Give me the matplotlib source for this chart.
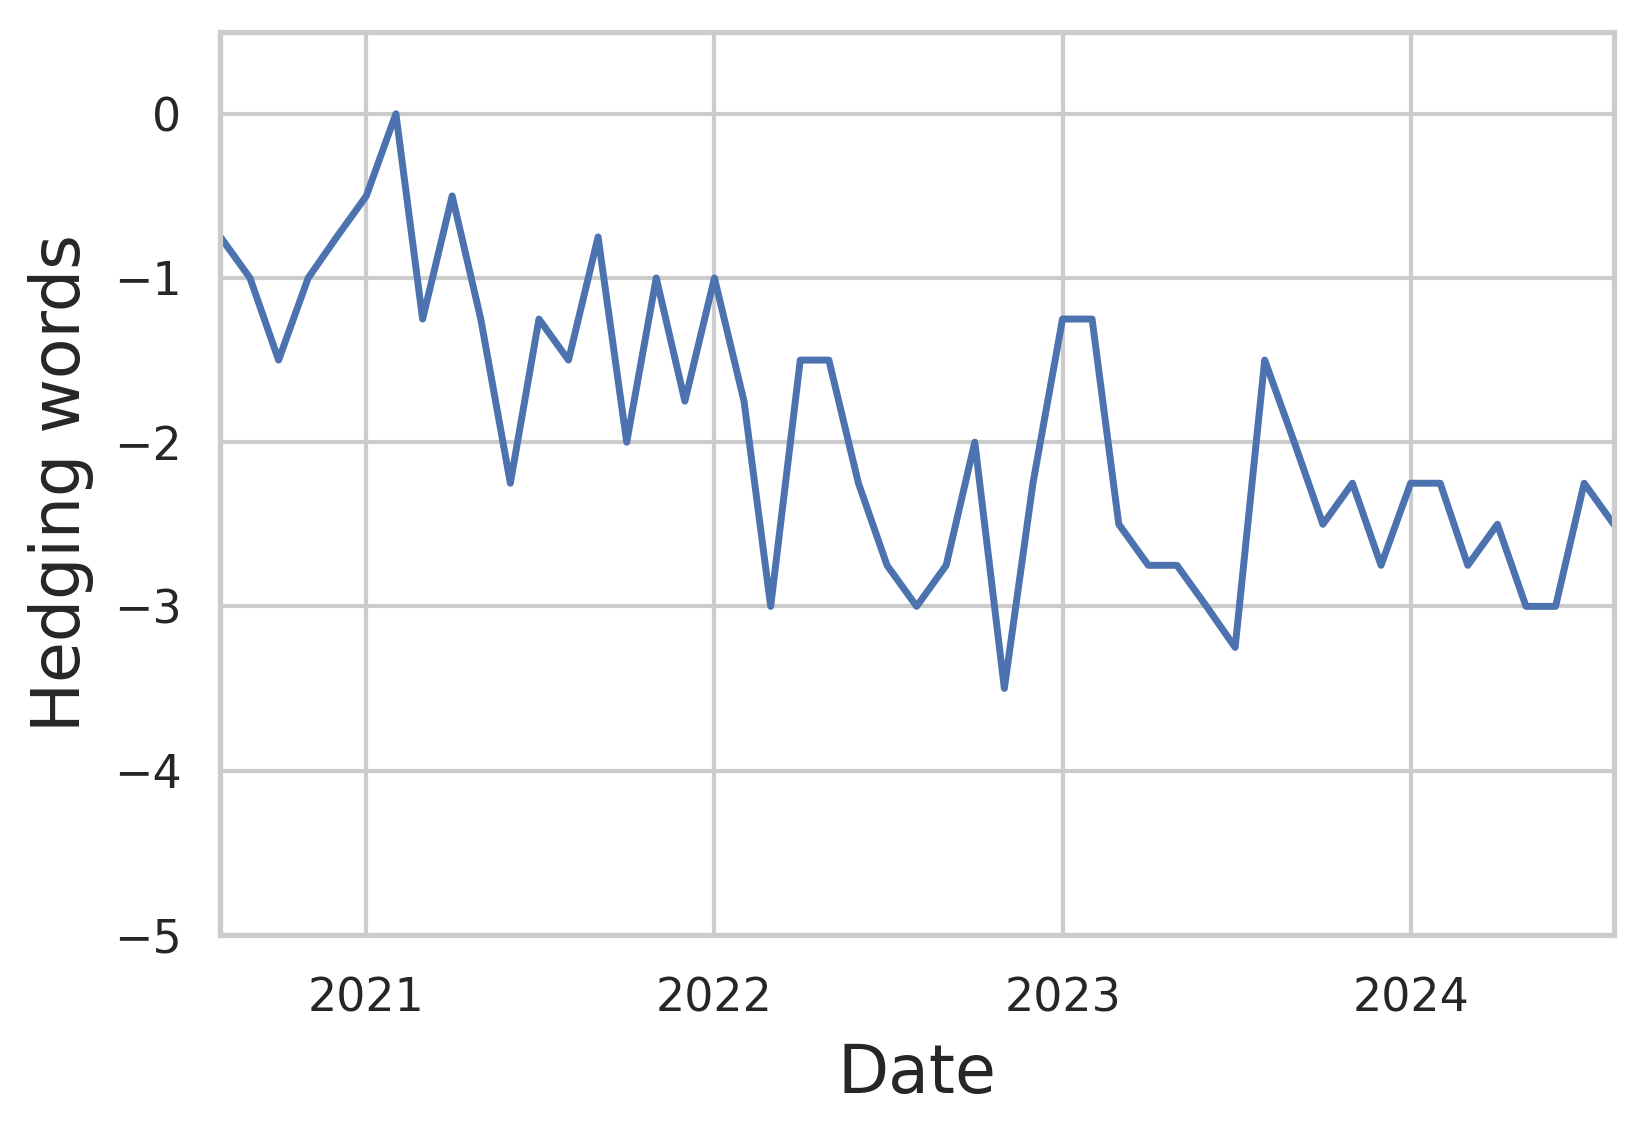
import numpy as np
import pandas as pd
import matplotlib
matplotlib.use("Agg")
import matplotlib.pyplot as plt
import matplotlib.dates as mdates
import seaborn as sns

# Monthly hedging-word scores, Aug 2020 - Aug 2024
dates = pd.date_range("2020-08-01", "2024-08-01", freq="MS")
hedging = [
    -0.75, -1.0, -1.5, -1.0, -0.75,                                     # 2020 Aug-Dec
    -0.5, 0.0, -1.25, -0.5, -1.25, -2.25, -1.25, -1.5, -0.75, -2.0, -1.0, -1.75,   # 2021
    -1.0, -1.75, -3.0, -1.5, -1.5, -2.25, -2.75, -3.0, -2.75, -2.0, -3.5, -2.25,   # 2022
    -1.25, -1.25, -2.5, -2.75, -2.75, -3.0, -3.25, -1.5, -2.0, -2.5, -2.25, -2.75, # 2023
    -2.25, -2.25, -2.75, -2.5, -3.0, -3.0, -2.25, -2.5,                 # 2024 Jan-Aug
]

sns.set_theme(style="whitegrid", context="talk")

fig, ax = plt.subplots(figsize=(8.225, 5.665), dpi=200)
fig.subplots_adjust(left=0.134, right=0.981, top=0.972, bottom=0.175)

ax.plot(dates, hedging, color="#4c72b0", linewidth=2.5)

ax.set_xlim(dates[0], dates[-1])
ax.set_ylim(-5, 0.5)
ax.set_yticks([0, -1, -2, -3, -4, -5])
ax.xaxis.set_major_locator(mdates.YearLocator())
ax.xaxis.set_major_formatter(mdates.DateFormatter("%Y"))
ax.tick_params(axis="x", labelsize=16.5, pad=6)
ax.tick_params(axis="y", labelsize=16.5, pad=5)

ax.set_xlabel("Date", fontsize=24, labelpad=7)
ax.set_ylabel("Hedging words", fontsize=24, labelpad=7)

plt.savefig("out.png", dpi=200)
